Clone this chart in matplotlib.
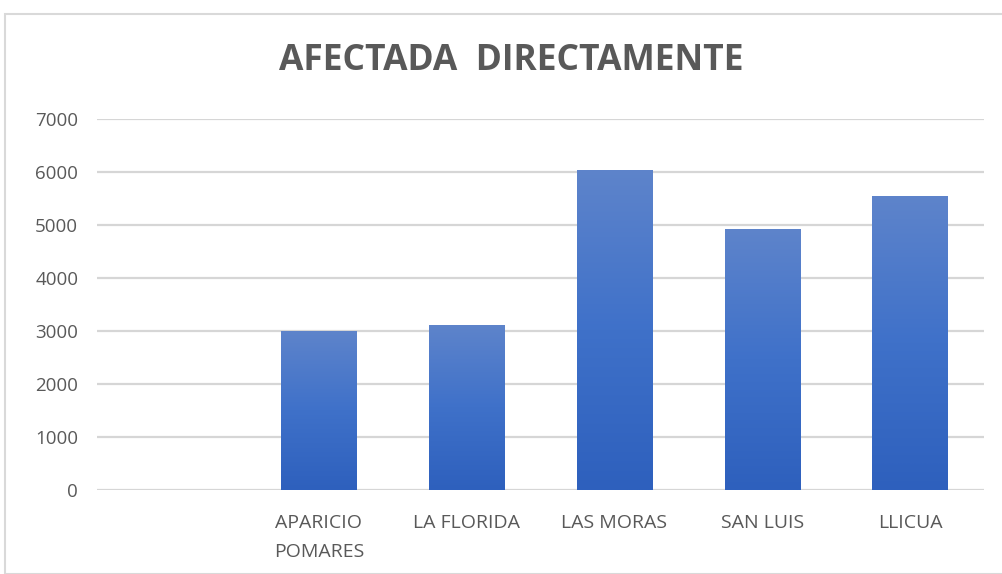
import matplotlib
matplotlib.use('Agg')
import matplotlib.pyplot as plt
import matplotlib.patheffects as pe
import numpy as np
from matplotlib.colors import LinearSegmentedColormap
from matplotlib.patches import Rectangle

categories = ["", "APARICIO\nPOMARES", "LA FLORIDA", "LAS MORAS", "SAN LUIS", "LLICUA"]
values = [0, 3000, 3120, 6040, 4925, 5550]
yticks = [0, 1000, 2000, 3000, 4000, 5000, 6000, 7000]

plt.rcParams['font.family'] = ['Open Sans', 'DejaVu Sans']
text_color = '#595959'

fig = plt.figure(figsize=(10.02, 5.74), dpi=100)
# chart frame
fig.patches.append(Rectangle((5 / 1002, 0), 1.1, 1 - 14 / 574, transform=fig.transFigure,
                             fill=False, edgecolor='#d9d9d9', linewidth=1.5))
ax = fig.add_axes([97 / 1002, (574 - 490) / 574, (984 - 97) / 1002, (490 - 119) / 574])

x = np.arange(len(categories))
bars = ax.bar(x, values, width=0.51, color='none', zorder=3)

cmap = LinearSegmentedColormap.from_list('grad', ['#2e60bd', '#3f71c9', '#5e84cb'])
grad = np.linspace(0, 1, 256).reshape(-1, 1)
for b, v in zip(bars, values):
    if v <= 0:
        continue
    x0, w = b.get_x(), b.get_width()
    shadow = Rectangle((x0, 0), w, v, facecolor='none', edgecolor='none', zorder=2,
                       path_effects=[pe.SimplePatchShadow(offset=(0, -1), shadow_rgbFace='#888888', alpha=0.35)])
    ax.add_patch(shadow)
    im = ax.imshow(grad, extent=[x0, x0 + w, 0, v], origin='lower', cmap=cmap,
                   aspect='auto', zorder=3)
    im.set_clip_path(b)

ax.set_xlim(-0.5, len(categories) - 0.5)
ax.set_ylim(0, 7000)
ax.set_yticks(yticks)
ax.set_xticks(x)
ax.set_xticklabels(categories, fontsize=14, color=text_color, linespacing=1.75)
ax.tick_params(axis='y', labelsize=13.5, labelcolor=text_color, length=0, pad=13.5)
ax.tick_params(axis='x', length=0, pad=17.5)
ax.grid(axis='y', color='#d6d6d6', linewidth=1.6, zorder=0)
ax.set_axisbelow(True)
for s in ax.spines.values():
    s.set_visible(False)

fig.text(511 / 1002, 1 - 61 / 574, "AFECTADA  DIRECTAMENTE", ha='center', va='center',
         fontsize=25.5, fontweight='bold', color=text_color)

fig.savefig('out.png', dpi=100)
